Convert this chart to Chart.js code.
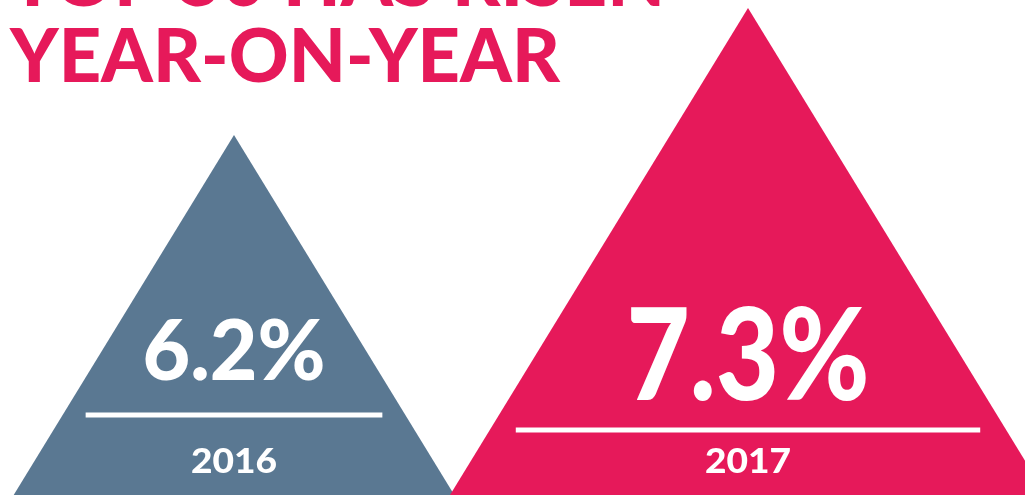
<!DOCTYPE html>
<html>
<head>
<meta charset="utf-8">
<script src="https://cdn.jsdelivr.net/npm/chart.js@4/dist/chart.umd.min.js"></script>
<style>
  html, body { margin: 0; padding: 0; background: #fff; overflow: hidden; }
  body { width: 1025px; height: 495px; position: relative; }
  #wrap { position: absolute; left: -23px; top: 0; width: 1070px; height: 495px; }
</style>
</head>
<body>
<div id="wrap"><canvas id="myChart"></canvas></div>
<script>
// chart data
const years = ['2016', '2017'];
const growth = [6.2, 7.3];
const titleLines = ['TOP 50 HAS RISEN', 'YEAR-ON-YEAR'];

const yMin = 3.08;
const yMax = 7.37;

const colours = ['#5a7892', '#e6195a'];
const pink = '#e6195a';

// text layout inside each triangle (offsets up from the triangle base)
const inner = [
  { valSize: 84, valW: 183, valUp: 115, lineUp: 80, lineInset: 23 },
  { valSize: 128, valW: 243, valUp: 95, lineUp: 65, lineInset: 26 }
];

function wideText(ctx, txt, x, y, w) {
  const m = ctx.measureText(txt).width;
  ctx.save();
  ctx.translate(x, y);
  ctx.scale(w / m, 1);
  ctx.fillText(txt, 0, 0);
  ctx.restore();
}

const triangles = {
  id: 'triangles',
  afterDatasetsDraw(chart) {
    const ctx = chart.ctx;
    const meta = chart.getDatasetMeta(0);
    const slope = 0.612;
    meta.data.forEach((bar, i) => {
      const h = bar.base - bar.y;
      const half = slope * h;
      ctx.save();
      ctx.fillStyle = colours[i];
      ctx.beginPath();
      ctx.moveTo(bar.x, bar.y);
      ctx.lineTo(bar.x + half, bar.base);
      ctx.lineTo(bar.x - half, bar.base);
      ctx.closePath();
      ctx.fill();

      const L = inner[i];
      ctx.fillStyle = '#fff';
      ctx.textAlign = 'left';
      ctx.textBaseline = 'alphabetic';
      ctx.font = '900 ' + L.valSize + 'px Lato';
      wideText(ctx, growth[i].toFixed(1) + '%', bar.x - L.valW / 2, bar.base - L.valUp, L.valW);

      const ly = bar.base - L.lineUp;
      const lh = slope * (ly - bar.y) - L.lineInset;
      ctx.fillRect(bar.x - lh, ly - 2.5, lh * 2, 5);

      ctx.font = '900 35px Lato';
      wideText(ctx, years[i], bar.x - 43, bar.base - 22, 86);
      ctx.restore();
    });

    // heading, first line runs off the top edge
    ctx.save();
    ctx.fillStyle = pink;
    ctx.font = '900 74px Lato';
    ctx.textBaseline = 'alphabetic';
    wideText(ctx, titleLines[0], 33, 6, 655);
    wideText(ctx, titleLines[1], 33, 82, 550);
    ctx.restore();
  }
};

const canvas = document.getElementById('myChart');
const myChart = new Chart(canvas, {
  type: 'bar',
  data: {
    labels: years,
    datasets: [{
      label: 'Growth',
      data: growth,
      base: yMin,
      backgroundColor: 'rgba(0,0,0,0)'
    }]
  },
  options: {
    responsive: true,
    maintainAspectRatio: false,
    animation: false,
    layout: { padding: { left: 0, right: 42, top: 0, bottom: 0 } },
    plugins: {
      legend: { display: false },
      tooltip: { enabled: false },
      title: { display: false }
    },
    scales: {
      x: { display: false },
      y: { display: false, beginAtZero: false, min: yMin, max: yMax }
    }
  },
  plugins: [triangles]
});
</script>
</body>
</html>
